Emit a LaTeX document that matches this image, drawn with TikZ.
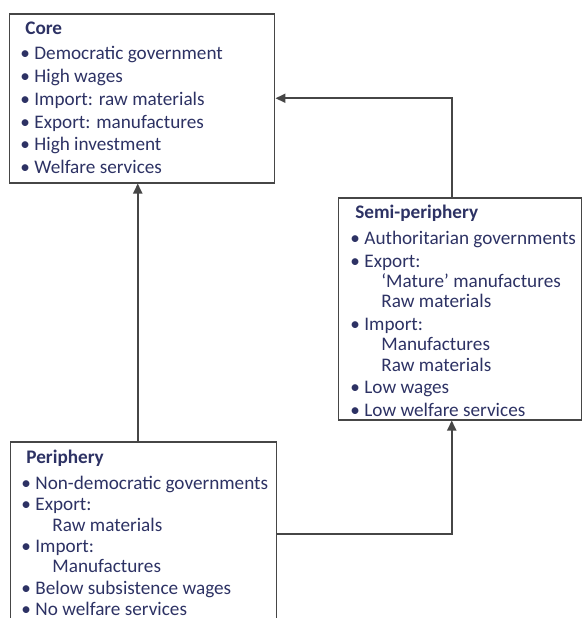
\documentclass[tikz,border=0pt]{standalone}
\usepackage{fontspec}
\setmainfont{Carlito}
\usetikzlibrary{arrows.meta}

\definecolor{inkblue}{RGB}{45,50,100}
\definecolor{framegray}{RGB}{70,70,70}

\newcommand{\bl}[1]{\makebox[7pt][l]{\textbullet}#1}
\newcommand{\sub}[1]{\hspace*{15.5pt}#1}
\newcommand{\hd}[1]{\hspace*{2.5pt}\textbf{#1}}

\tikzset{
  box/.style={draw=framegray, line width=0.75pt, inner sep=0pt, anchor=north west},
  txt/.style={text=inkblue, font=\fontsize{9.6}{10.2}\selectfont, align=left, anchor=north west, inner sep=0pt},
  link/.style={draw=framegray, line width=1pt, -{Triangle[length=5pt,width=4.5pt]}}
}

\begin{document}
\begin{tikzpicture}[x=0.5pt, y=-0.5pt]
        \useasboundingbox (0,0) rectangle (583,618);
        \clip (0,0) rectangle (583,618);

        % Core
        \node[box, minimum width=132.5pt, minimum height=84.5pt] (core) at (9,13) {};
        \node[txt] (coretxt) at (20,21) {\hd{Core}\\[2.7pt]
          \bl{Democratic government}\\[1.2pt]
          \bl{High wages}\\[1.2pt]
          \bl{Import: raw materials}\\[1.2pt]
          \bl{Export: manufactures}\\[1.2pt]
          \bl{High investment}\\[1.2pt]
          \bl{Welfare services}};

        % Semi-periphery
        \node[box, minimum width=121.5pt, minimum height=111pt] (semi) at (338,197) {};
        \node[txt] (semitxt) at (350,205) {\hd{Semi-periphery}\\[2.7pt]
          \bl{Authoritarian governments}\\[1pt]
          \bl{Export:}\\
          \sub{`Mature' manufactures}\\
          \sub{Raw materials}\\[1pt]
          \bl{Import:}\\
          \sub{Manufactures}\\
          \sub{Raw materials}\\[1pt]
          \bl{Low wages}\\[1.2pt]
          \bl{Low welfare services}};

        % Periphery
        \node[box, minimum width=133pt, minimum height=92pt] (peri) at (10,441) {};
        \node[txt] (peritxt) at (21,450) {\hd{Periphery}\\[2.5pt]
          \bl{Non-democratic governments}\\[0.5pt]
          \bl{Export:}\\
          \sub{Raw materials}\\[0.5pt]
          \bl{Import:}\\
          \sub{Manufactures}\\[0.5pt]
          \bl{Below subsistence wages}\\[0.5pt]
          \bl{No welfare services}};

        % Verbindungen
        \draw[link] ([xshift=-3pt]peri.north) -- ([xshift=-3pt]peri.north |- core.south);
        \draw[link] ([xshift=-4.25pt]semi.north) |- (core.east);
        \draw[link] (peri.east) -| ([xshift=-4.25pt]semi.south);
\end{tikzpicture}
\end{document}
